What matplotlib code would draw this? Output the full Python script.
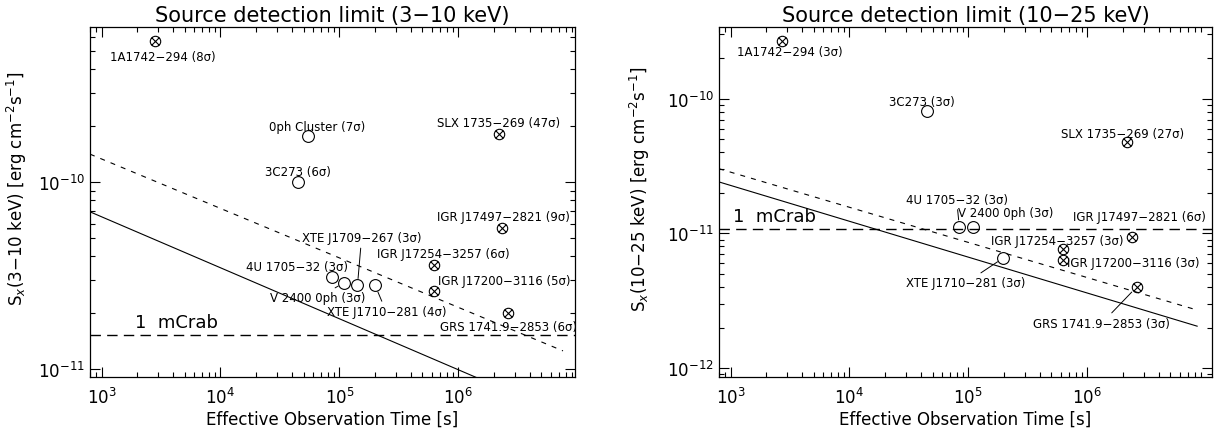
import numpy as np
import matplotlib
matplotlib.use('Agg')
from matplotlib import pyplot as plt
from matplotlib.path import Path
from matplotlib.ticker import NullFormatter

# ---- 3-10 keV band ----
soft_names = ['1A1742−294 (8σ)', '0ph Cluster (7σ)', '3C273 (6σ)', 'SLX 1735−269 (47σ)',
              'IGR J17497−2821 (9σ)', 'IGR J17254−3257 (6σ)', 'IGR J17200−3116 (5σ)',
              'GRS 1741.9−2853 (6σ)', '4U 1705−32 (3σ)', 'V 2400 0ph (3σ)',
              'XTE J1709−267 (3σ)', 'XTE J1710−281 (4σ)']
soft_time = [2.84e3, 5.5e4, 4.45e4, 2.2e6, 2.35e6, 6.2e5, 6.2e5, 2.6e6, 8.6e4, 1.1e5, 1.42e5, 2.0e5]
soft_flux = [5.7e-10, 1.76e-10, 1.0e-10, 1.81e-10, 5.7e-11, 3.6e-11, 2.6e-11, 2.0e-11,
             3.1e-11, 2.9e-11, 2.8e-11, 2.8e-11]
soft_crossed = [1, 0, 0, 1, 1, 1, 1, 1, 0, 0, 0, 0]
soft_lim_time = [8e2, 7.6e6]
soft_lim_solid = [6.93e-11, 5.7e-12]
soft_lim_dashed = [1.41e-10, 1.25e-11]
soft_mcrab = 1.52e-11

# ---- 10-25 keV band ----
hard_names = ['1A1742−294 (3σ)', '3C273 (3σ)', 'SLX 1735−269 (27σ)', '4U 1705−32 (3σ)',
              'V 2400 0ph (3σ)', 'IGR J17497−2821 (6σ)', 'IGR J17254−3257 (3σ)',
              'IGR J17200−3116 (3σ)', 'XTE J1710−281 (3σ)', 'GRS 1741.9−2853 (3σ)']
hard_time = [2.73e3, 4.5e4, 2.17e6, 8.4e4, 1.1e5, 2.4e6, 6.2e5, 6.2e5, 1.97e5, 2.6e6]
hard_flux = [2.7e-10, 8.15e-11, 4.78e-11, 1.12e-11, 1.12e-11, 9.4e-12, 7.67e-12, 6.35e-12,
             6.58e-12, 4.0e-12]
hard_crossed = [1, 0, 1, 0, 0, 1, 1, 1, 0, 1]
hard_lim_time = [8e2, 8.4e6]
hard_lim_solid = [2.41e-11, 2.05e-12]
hard_lim_dashed = [3.02e-11, 2.70e-12]
hard_mcrab = 1.08e-11

time_ticks = [1e3, 1e4, 1e5, 1e6]

# label placement: (dx, dy) in points, alignment, leader line
soft_layout = [(5, -11, 'center', False), (6.5, 7, 'center', False), (0, 7.5, 'center', False),
               (0, 8.5, 'center', False), (0.5, 8, 'center', False), (7, 8.5, 'center', False),
               (3.5, 8, 'left', False), (0.5, -10, 'center', False), (12, 8, 'right', False),
               (-19, -11, 'center', True), (3, 34.5, 'center', True), (8, -19, 'center', True)]
hard_layout = [(5, -8, 'center', False), (-3.5, 6.5, 'center', False), (-3.5, 6, 'center', False),
               (-2, 20, 'center', True), (23, 10, 'center', False), (5, 14.5, 'center', False),
               (-3.5, 6, 'center', False), (3, -1.5, 'left', False), (-27, -18, 'center', True),
               (-25, -26, 'center', True)]

# circle with a cross inside
_d = 0.72
OTIMES = Path.make_compound_path(
    Path.unit_circle(),
    Path([(-_d, -_d), (_d, _d), (-_d, _d), (_d, -_d)],
         [Path.MOVETO, Path.LINETO, Path.MOVETO, Path.LINETO]))


def draw_panel(ax, names, times, fluxes, crossed, layout, lim_t, lim_solid, lim_dashed,
               mcrab, mcrab_x, title, band, xlim, ylim):
    ax.plot(lim_t, lim_solid, color='k', lw=0.8)
    ax.plot(lim_t, lim_dashed, color='k', lw=0.8, dashes=(4.5, 5.5))
    ax.axhline(mcrab, color='k', lw=1.0, dashes=(7.5, 4.5))
    ax.annotate('1  mCrab', xy=(mcrab_x, mcrab), xytext=(0, 3), textcoords='offset points',
                ha='left', va='bottom', fontsize=13)

    for name, t, f, cr, (dx, dy, ha, leader) in zip(names, times, fluxes, crossed, layout):
        if cr:
            ax.plot(t, f, marker=OTIMES, ms=7.5, mfc='none', mec='k', mew=0.8, ls='none')
        else:
            ax.plot(t, f, marker='o', ms=8.5, mfc='none', mec='k', mew=0.8, ls='none')
        arrow = dict(arrowstyle='-', color='k', lw=0.7, shrinkA=1, shrinkB=5) if leader else None
        ax.annotate(name, xy=(t, f), xytext=(dx, dy), textcoords='offset points',
                    ha=ha, va='center', fontsize=8.5, arrowprops=arrow)

    ax.set_xscale('log')
    ax.set_yscale('log')
    ax.set_xticks(time_ticks)
    ax.set_xlim(*xlim)
    ax.set_ylim(*ylim)
    ax.yaxis.set_minor_formatter(NullFormatter())
    ax.xaxis.set_minor_formatter(NullFormatter())
    ax.tick_params(which='both', direction='in', top=True, right=True, width=0.8,
                   labelsize=12)
    ax.tick_params(which='major', length=7)
    ax.tick_params(which='minor', length=3.5)
    ax.tick_params(axis='x', pad=7)
    for s in ax.spines.values():
        s.set_linewidth(0.9)
    ax.set_title(title, fontsize=15, pad=4)
    ax.set_xlabel('Effective Observation Time [s]', fontsize=12, labelpad=2)
    ax.set_ylabel('S$_x$(' + band + ') [erg cm$^{-2}$s$^{-1}$]', fontsize=12)


fig = plt.figure(figsize=(12.23, 4.35), dpi=100)
ax1 = fig.add_axes([0.0736, 0.131, 0.3966, 0.8046])
ax2 = fig.add_axes([0.5879, 0.131, 0.4031, 0.8046])

draw_panel(ax1, soft_names, soft_time, soft_flux, soft_crossed, soft_layout,
           soft_lim_time, soft_lim_solid, soft_lim_dashed, soft_mcrab, 1.9e3,
           'Source detection limit (3−10 keV)', '3−10 keV',
           (8e2, 9.6e6), (9.06e-12, 6.75e-10))
draw_panel(ax2, hard_names, hard_time, hard_flux, hard_crossed, hard_layout,
           hard_lim_time, hard_lim_solid, hard_lim_dashed, hard_mcrab, 1.05e3,
           'Source detection limit (10−25 keV)', '10−25 keV',
           (8e2, 1.12e7), (8.6e-13, 3.4e-10))

ax1.yaxis.set_label_coords(-0.125, 0.54)
ax2.yaxis.set_label_coords(-0.135, 0.54)

plt.savefig('out.png', dpi=100)
